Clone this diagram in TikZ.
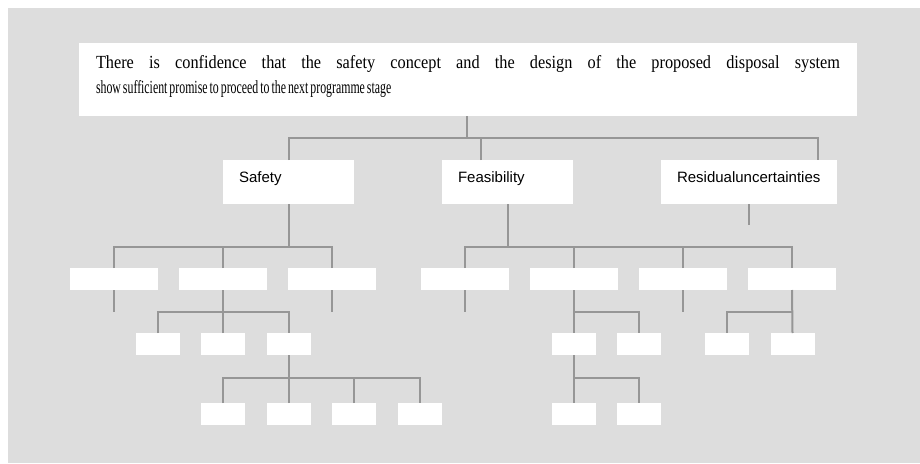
\documentclass[tikz,border=0pt]{standalone}
\usepackage{fontspec}
\setmainfont{Liberation Serif}
\newfontfamily\labelfont{Liberation Sans}
\newfontfamily\headfont[FakeStretch=0.88]{Liberation Serif}
\newfontfamily\headnarrow[FakeStretch=0.64]{Liberation Serif}
\definecolor{panel}{RGB}{221,221,221}
\definecolor{wire}{RGB}{150,150,150}
\begin{document}
\begin{tikzpicture}[x=1pt,y=-1pt,
  conn/.style={draw=wire,line width=2pt},
  card/.style={fill=white,inner sep=0pt,outer sep=0pt},
  goal/.style={card,minimum height=44pt,inner xsep=16pt,inner ysep=0pt,
    text height=10pt,text depth=10pt,align=left,
    font=\labelfont\fontsize{15}{18}\selectfont},
  tier/.style={card,minimum width=88pt,minimum height=22pt},
  leaf/.style={card,minimum width=44pt,minimum height=22pt}]
\useasboundingbox (0,0) rectangle (920,463);
\fill[panel] (8,8) rectangle (920,463);

% top claim
\node[card,anchor=north west,inner xsep=17pt] (top) at (79,43)
  {\parbox[c][73pt][t]{744pt}{\headfont\fontsize{18.5}{25}\selectfont
   \vspace*{12pt}\noindent
   \makebox[744pt][s]{There is confidence that the safety concept and the design of the proposed disposal system}\\
   {\headnarrow\spaceskip=2pt plus 0.5pt show sufficient promise to proceed to the next programme stage}}};

% main arguments
\node[goal,text width=99pt]  (safety) at (288.5,182) {Safety};
\node[goal,text width=99pt]  (feas)   at (507.5,182) {Feasibility};
\node[goal,text width=144pt] (res)    at (749,182)   {Residualuncertainties};

% second tier
\node[tier] (s1) at (113.5,279) {};
\node[tier] (s2) at (223,279) {};
\node[tier] (s3) at (332,279) {};
\node[tier] (f1) at (464.5,279) {};
\node[tier] (f2) at (573.5,279) {};
\node[tier] (f3) at (683,279) {};
\node[tier] (f4) at (792,279) {};

% third tier
\node[leaf] (t1) at (157.5,344) {};
\node[leaf] (t2) at (223,344) {};
\node[leaf] (t3) at (288.5,344) {};
\node[leaf] (fa) at (573.5,344) {};
\node[leaf] (fb) at (639,344) {};
\node[leaf] (g1) at (726.5,344) {};
\node[leaf] (g2) at (792.5,344) {};

% fourth tier
\node[leaf] (u1) at (223,414) {};
\node[leaf] (u2) at (288.5,414) {};
\node[leaf] (u3) at (354,414) {};
\node[leaf] (u4) at (419.5,414) {};
\node[leaf] (fa1) at (573.5,414) {};
\node[leaf] (fa2) at (639,414) {};

% bus lines
\coordinate (b0) at (467,138);
\coordinate (bs) at (288.5,247);
\coordinate (bf) at (507.5,247);
\coordinate (bs2) at (223,312);
\coordinate (bt3) at (288.5,378);
\coordinate (bf2) at (573.5,312);
\coordinate (bfa) at (573.5,378);
\coordinate (bf4) at (792,312);

% top claim to arguments
\draw[conn] (top.south -| b0) -- (b0);
\draw[conn] (safety.north) |- (b0) -| ([xshift=69pt]res.north);
\draw[conn] ([xshift=-26.5pt]feas.north) -- ([xshift=-26.5pt]feas.north |- b0);
\draw[conn] (res.south) -- ++(0,21) coordinate (resend);

% safety branch
\draw[conn] (safety.south) -- (bs);
\draw[conn] (s1.north) |- (bs) -| (s3.north);
\draw[conn] (s2.north) -- (s2.north |- bs);
\draw[conn] (s1.south) -- ++(0,22) coordinate (s1end);
\draw[conn] (s3.south) -- ++(0,22) coordinate (s3end);
\draw[conn] (s2.south) -- (bs2);
\draw[conn] (t1.north) |- (bs2) -| (t3.north);
\draw[conn] (t2.north) -- (t2.north |- bs2);
\draw[conn] (t3.south) -- (bt3);
\draw[conn] (u1.north) |- (bt3) -| (u4.north);
\draw[conn] (u2.north) -- (u2.north |- bt3);
\draw[conn] (u3.north) -- (u3.north |- bt3);

% feasibility branch
\draw[conn] (feas.south) -- (bf);
\draw[conn] (f1.north) |- (bf) -| (f4.north);
\draw[conn] (f2.north) -- (f2.north |- bf);
\draw[conn] (f3.north) -- (f3.north |- bf);
\draw[conn] (f1.south) -- ++(0,22) coordinate (f1end);
\draw[conn] (f3.south) -- ++(0,22) coordinate (f3end);
\draw[conn] (f2.south) -- (fa.north);
\draw[conn] (bf2) -| (fb.north);
\draw[conn] (fa.south) -- (fa1.north);
\draw[conn] (bfa) -| (fa2.north);
\draw[conn] (f4.south) -- (g2.north);
\draw[conn] (bf4) -| (g1.north);
\end{tikzpicture}
\end{document}
